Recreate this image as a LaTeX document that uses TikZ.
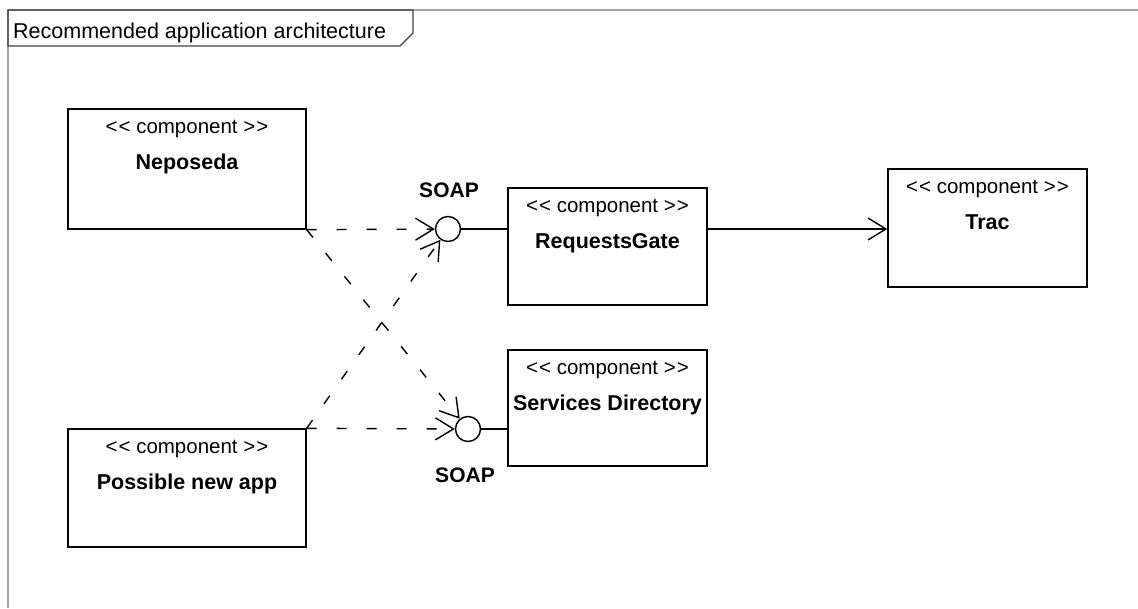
\documentclass[tikz,border=0pt]{standalone}
\usepackage{fontspec}
\setmainfont{Liberation Sans}[Ligatures=NoCommon]
\usetikzlibrary{arrows.meta}
\definecolor{framegray}{HTML}{A4A4A4}
\newcommand{\stereotxt}{<\kern1pt<\ component >\kern1pt>}
\tikzset{
  comp/.style={draw=black, line width=1.4pt, rectangle, inner sep=0pt},
  stereo/.style={anchor=base, inner sep=0pt, font=\fontsize{20.5}{24}\selectfont},
  cname/.style={anchor=base, inner sep=0pt, font=\fontsize{21.5}{25}\selectfont\bfseries},
  iface/.style={draw=black, line width=1.4pt, circle, minimum size=25pt, inner sep=0pt},
  dep/.style={line width=1.4pt, dash pattern=on 10pt off 20pt, -{Straight Barb[length=18pt,width=22pt,line width=1.4pt]}},
  assoc/.style={line width=1.4pt, -{Straight Barb[length=18pt,width=22pt,line width=1.4pt]}},
  plain/.style={line width=1.4pt},
  soap/.style={inner sep=0pt, font=\fontsize{21}{25}\selectfont\bfseries}
}
\begin{document}
\begin{tikzpicture}[x=1pt,y=-1pt]
\useasboundingbox (0,0) rectangle (1138,608);
% frame
\draw[framegray, line width=2pt] (1138,10) -- (8,10) -- (8,608);
\draw[black!75, line width=1.4pt] (8,10) -- (413,10) -- (413,33) -- (400,46) -- (8,46) -- cycle;
\node[anchor=base west, inner sep=0pt, font=\fontsize{21.5}{25}\selectfont] (title) at (13,38) {Recommended application architecture};

% components
\node[comp, minimum width=238pt, minimum height=120pt] (nep) at (187,169) {};
\node[stereo] (nep-s) at ([yshift=-25pt]nep.north) {\stereotxt};
\node[cname] (nep-n) at ([yshift=-61pt]nep.north) {Neposeda};

\node[comp, minimum width=238pt, minimum height=118pt] (pna) at (187,488) {};
\node[stereo] (pna-s) at ([yshift=-25pt]pna.north) {\stereotxt};
\node[cname] (pna-n) at ([yshift=-61pt]pna.north) {Possible new app};

\node[comp, minimum width=199pt, minimum height=117pt] (rg) at (607.5,246.5) {};
\node[stereo] (rg-s) at ([yshift=-25pt]rg.north) {\stereotxt};
\node[cname] (rg-n) at ([yshift=-61pt]rg.north) {RequestsGate};

\node[comp, minimum width=199pt, minimum height=116pt] (sd) at (607.5,408) {};
\node[stereo] (sd-s) at ([yshift=-25pt]sd.north) {\stereotxt};
\node[cname] (sd-n) at ([yshift=-61pt]sd.north) {Services Directory};

\node[comp, minimum width=199pt, minimum height=118pt] (trac) at (987.5,228) {};
\node[stereo] (trac-s) at ([yshift=-25pt]trac.north) {\stereotxt};
\node[cname] (trac-n) at ([yshift=-61pt]trac.north) {Trac};

% interfaces
\node[iface] (s1) at (448,229) {};
\node[soap] (s1l) at (449,190) {SOAP};
\node[iface] (s2) at (468,429) {};
\node[soap] (s2l) at (465,475) {SOAP};

% connectors
\draw[plain] (s1) -- (s1 -| rg.west);
\draw[plain] (s2) -- (s2 -| sd.west);
\draw[assoc] (rg.east |- s1) -- (trac.west |- s1);

\draw[dep] (nep.south east) -- (s1);
\draw[dep] (nep.south east) -- (s2);
\draw[dep] (pna.north east) -- (s2);
\draw[dep] (pna.north east) -- (s1);
\end{tikzpicture}
\end{document}
